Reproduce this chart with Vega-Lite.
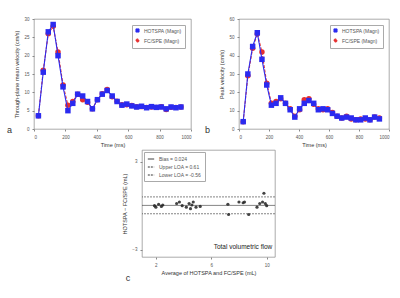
{
  "$schema": "https://vega.github.io/schema/vega-lite/v6.json",
  "padding": {"left": 6, "top": 15, "right": 2, "bottom": 4},
  "background": "white",
  "config": {
    "font": "Liberation Sans",
    "view": {"stroke": "#888888", "strokeWidth": 0.7},
    "axis": {"grid": false, "labelFontSize": 4.5, "titleFontSize": 5.5, "labelColor": "#555555", "titleColor": "#333333", "domain": false, "tickColor": "#888888", "tickSize": 2, "labelPadding": 3, "titleFontWeight": "normal", "labelOverlap": false, "format": "d"},
    "legend": {"labelFontSize": 5, "labelColor": "#555555", "symbolSize": 10, "rowPadding": 1, "padding": 3, "strokeColor": "#aaaaaa", "fillColor": "white", "symbolStrokeWidth": 1},
    "title": {"fontSize": 9, "fontWeight": "normal", "color": "#333333"}
  },
  "datasets": {
    "mean": [
      {"t": 28, "s": "HOTSPA (Magn)", "v": 3.6}, {"t": 59, "s": "HOTSPA (Magn)", "v": 15.5}, {"t": 91, "s": "HOTSPA (Magn)", "v": 26.5}, {"t": 122, "s": "HOTSPA (Magn)", "v": 28.5}, {"t": 153, "s": "HOTSPA (Magn)", "v": 20}, {"t": 185, "s": "HOTSPA (Magn)", "v": 11.5}, {"t": 216, "s": "HOTSPA (Magn)", "v": 5.0}, {"t": 247, "s": "HOTSPA (Magn)", "v": 7.0}, {"t": 278, "s": "HOTSPA (Magn)", "v": 9.5}, {"t": 310, "s": "HOTSPA (Magn)", "v": 9.0}, {"t": 341, "s": "HOTSPA (Magn)", "v": 7.5}, {"t": 372, "s": "HOTSPA (Magn)", "v": 5.5}, {"t": 404, "s": "HOTSPA (Magn)", "v": 8.0}, {"t": 435, "s": "HOTSPA (Magn)", "v": 9.5}, {"t": 466, "s": "HOTSPA (Magn)", "v": 10.5}, {"t": 498, "s": "HOTSPA (Magn)", "v": 9.0}, {"t": 529, "s": "HOTSPA (Magn)", "v": 7.5}, {"t": 560, "s": "HOTSPA (Magn)", "v": 6.5}, {"t": 591, "s": "HOTSPA (Magn)", "v": 6.8}, {"t": 623, "s": "HOTSPA (Magn)", "v": 6.3}, {"t": 654, "s": "HOTSPA (Magn)", "v": 6.0}, {"t": 685, "s": "HOTSPA (Magn)", "v": 6.2}, {"t": 717, "s": "HOTSPA (Magn)", "v": 5.8}, {"t": 748, "s": "HOTSPA (Magn)", "v": 6.1}, {"t": 779, "s": "HOTSPA (Magn)", "v": 5.9}, {"t": 811, "s": "HOTSPA (Magn)", "v": 6.0}, {"t": 842, "s": "HOTSPA (Magn)", "v": 5.5}, {"t": 873, "s": "HOTSPA (Magn)", "v": 6.0}, {"t": 904, "s": "HOTSPA (Magn)", "v": 5.8}, {"t": 936, "s": "HOTSPA (Magn)", "v": 6.0},
      {"t": 28, "s": "FC/SPE (Magn)", "v": 3.6}, {"t": 59, "s": "FC/SPE (Magn)", "v": 16}, {"t": 91, "s": "FC/SPE (Magn)", "v": 26}, {"t": 122, "s": "FC/SPE (Magn)", "v": 28}, {"t": 153, "s": "FC/SPE (Magn)", "v": 21}, {"t": 185, "s": "FC/SPE (Magn)", "v": 12}, {"t": 216, "s": "FC/SPE (Magn)", "v": 6.5}, {"t": 247, "s": "FC/SPE (Magn)", "v": 7.5}, {"t": 278, "s": "FC/SPE (Magn)", "v": 9.5}, {"t": 310, "s": "FC/SPE (Magn)", "v": 8.0}, {"t": 341, "s": "FC/SPE (Magn)", "v": 7.3}, {"t": 372, "s": "FC/SPE (Magn)", "v": 5.5}, {"t": 404, "s": "FC/SPE (Magn)", "v": 8.0}, {"t": 435, "s": "FC/SPE (Magn)", "v": 9.6}, {"t": 466, "s": "FC/SPE (Magn)", "v": 10.8}, {"t": 498, "s": "FC/SPE (Magn)", "v": 8.8}, {"t": 529, "s": "FC/SPE (Magn)", "v": 7.6}, {"t": 560, "s": "FC/SPE (Magn)", "v": 6.6}, {"t": 591, "s": "FC/SPE (Magn)", "v": 6.6}, {"t": 623, "s": "FC/SPE (Magn)", "v": 6.4}, {"t": 654, "s": "FC/SPE (Magn)", "v": 6.1}, {"t": 685, "s": "FC/SPE (Magn)", "v": 6.1}, {"t": 717, "s": "FC/SPE (Magn)", "v": 5.9}, {"t": 748, "s": "FC/SPE (Magn)", "v": 6.0}, {"t": 779, "s": "FC/SPE (Magn)", "v": 5.9}, {"t": 811, "s": "FC/SPE (Magn)", "v": 6.1}, {"t": 842, "s": "FC/SPE (Magn)", "v": 5.3}, {"t": 873, "s": "FC/SPE (Magn)", "v": 5.9}, {"t": 904, "s": "FC/SPE (Magn)", "v": 5.9}, {"t": 936, "s": "FC/SPE (Magn)", "v": 6.0}
    ],
    "peak": [
      {"t": 28, "s": "HOTSPA (Magn)", "v": 4}, {"t": 59, "s": "HOTSPA (Magn)", "v": 30}, {"t": 91, "s": "HOTSPA (Magn)", "v": 45}, {"t": 122, "s": "HOTSPA (Magn)", "v": 52.5}, {"t": 153, "s": "HOTSPA (Magn)", "v": 38}, {"t": 185, "s": "HOTSPA (Magn)", "v": 24}, {"t": 216, "s": "HOTSPA (Magn)", "v": 13}, {"t": 247, "s": "HOTSPA (Magn)", "v": 14}, {"t": 278, "s": "HOTSPA (Magn)", "v": 17}, {"t": 310, "s": "HOTSPA (Magn)", "v": 14}, {"t": 341, "s": "HOTSPA (Magn)", "v": 10.5}, {"t": 372, "s": "HOTSPA (Magn)", "v": 6.5}, {"t": 404, "s": "HOTSPA (Magn)", "v": 11}, {"t": 435, "s": "HOTSPA (Magn)", "v": 14}, {"t": 466, "s": "HOTSPA (Magn)", "v": 15.5}, {"t": 498, "s": "HOTSPA (Magn)", "v": 14}, {"t": 529, "s": "HOTSPA (Magn)", "v": 10.5}, {"t": 560, "s": "HOTSPA (Magn)", "v": 11}, {"t": 591, "s": "HOTSPA (Magn)", "v": 10.5}, {"t": 623, "s": "HOTSPA (Magn)", "v": 8.5}, {"t": 654, "s": "HOTSPA (Magn)", "v": 7}, {"t": 685, "s": "HOTSPA (Magn)", "v": 6}, {"t": 717, "s": "HOTSPA (Magn)", "v": 6.5}, {"t": 748, "s": "HOTSPA (Magn)", "v": 6}, {"t": 779, "s": "HOTSPA (Magn)", "v": 5}, {"t": 811, "s": "HOTSPA (Magn)", "v": 5}, {"t": 842, "s": "HOTSPA (Magn)", "v": 6}, {"t": 873, "s": "HOTSPA (Magn)", "v": 5}, {"t": 904, "s": "HOTSPA (Magn)", "v": 6.5}, {"t": 936, "s": "HOTSPA (Magn)", "v": 5.5},
      {"t": 28, "s": "FC/SPE (Magn)", "v": 4}, {"t": 59, "s": "FC/SPE (Magn)", "v": 29}, {"t": 91, "s": "FC/SPE (Magn)", "v": 44}, {"t": 122, "s": "FC/SPE (Magn)", "v": 52}, {"t": 153, "s": "FC/SPE (Magn)", "v": 42}, {"t": 185, "s": "FC/SPE (Magn)", "v": 25}, {"t": 216, "s": "FC/SPE (Magn)", "v": 14}, {"t": 247, "s": "FC/SPE (Magn)", "v": 15}, {"t": 278, "s": "FC/SPE (Magn)", "v": 16.5}, {"t": 310, "s": "FC/SPE (Magn)", "v": 14}, {"t": 341, "s": "FC/SPE (Magn)", "v": 11}, {"t": 372, "s": "FC/SPE (Magn)", "v": 7}, {"t": 404, "s": "FC/SPE (Magn)", "v": 10.5}, {"t": 435, "s": "FC/SPE (Magn)", "v": 16}, {"t": 466, "s": "FC/SPE (Magn)", "v": 16.5}, {"t": 498, "s": "FC/SPE (Magn)", "v": 13.5}, {"t": 529, "s": "FC/SPE (Magn)", "v": 11}, {"t": 560, "s": "FC/SPE (Magn)", "v": 10.5}, {"t": 591, "s": "FC/SPE (Magn)", "v": 11}, {"t": 623, "s": "FC/SPE (Magn)", "v": 9}, {"t": 654, "s": "FC/SPE (Magn)", "v": 7}, {"t": 685, "s": "FC/SPE (Magn)", "v": 6}, {"t": 717, "s": "FC/SPE (Magn)", "v": 7}, {"t": 748, "s": "FC/SPE (Magn)", "v": 5.5}, {"t": 779, "s": "FC/SPE (Magn)", "v": 5}, {"t": 811, "s": "FC/SPE (Magn)", "v": 5.5}, {"t": 842, "s": "FC/SPE (Magn)", "v": 5.5}, {"t": 873, "s": "FC/SPE (Magn)", "v": 5}, {"t": 904, "s": "FC/SPE (Magn)", "v": 6.5}, {"t": 936, "s": "FC/SPE (Magn)", "v": 6}
    ],
    "ba": [
      {"m": 1.9, "d": 0.0}, {"m": 2.0, "d": -0.1}, {"m": 2.2, "d": 0.1}, {"m": 2.4, "d": -0.05}, {"m": 2.5, "d": 0.05},
      {"m": 3.5, "d": 0.15}, {"m": 3.7, "d": 0.25}, {"m": 3.9, "d": 0.0}, {"m": 4.2, "d": -0.1}, {"m": 4.4, "d": 0.15}, {"m": 4.5, "d": -0.2}, {"m": 4.6, "d": 0.05}, {"m": 4.7, "d": 0.25}, {"m": 4.9, "d": -0.1}, {"m": 5.2, "d": -0.05},
      {"m": 7.2, "d": 0.1}, {"m": 7.25, "d": -0.6},
      {"m": 8.0, "d": 0.25}, {"m": 8.3, "d": 0.2}, {"m": 8.4, "d": 0.25},
      {"m": 8.7, "d": -0.6},
      {"m": 9.3, "d": -0.1}, {"m": 9.5, "d": 0.15}, {"m": 9.7, "d": 0.25}, {"m": 9.8, "d": 0.85}, {"m": 9.9, "d": 0.15}, {"m": 10.0, "d": 0.0}
    ],
    "loa": [
      {"lab": "Bias = 0.024", "y": 0.02},
      {"lab": "Upper LOA = 0.61", "y": 0.6},
      {"lab": "Lower LOA = -0.56", "y": -0.55}
    ]
  },
  "vconcat": [
    {
      "hconcat": [
        {
          "width": 157, "height": 110,
          "title": {"text": "a", "orient": "bottom", "anchor": "start", "dx": -8, "dy": -26},
          "data": {"name": "mean"},
          "encoding": {
            "x": {"field": "t", "type": "quantitative", "scale": {"domain": [0, 1000]}, "axis": {"values": [0, 200, 400, 600, 800, 1000], "title": "Time (ms)"}},
            "y": {"field": "v", "type": "quantitative", "scale": {"domain": [0, 30]}, "axis": {"values": [0, 5, 10, 15, 20, 25, 30], "title": "Through-plane mean velocity (cm/s)"}},
            "color": {"field": "s", "type": "nominal", "scale": {"domain": ["HOTSPA (Magn)", "FC/SPE (Magn)"], "range": ["#2b2bf0", "#e63030"]}, "legend": {"orient": "top-right", "title": null, "offset": 6}},
            "shape": {"field": "s", "type": "nominal", "scale": {"domain": ["HOTSPA (Magn)", "FC/SPE (Magn)"], "range": ["square", "circle"]}, "legend": null},
            "strokeDash": {"field": "s", "type": "nominal", "scale": {"domain": ["HOTSPA (Magn)", "FC/SPE (Magn)"], "range": [[1, 0], [3, 1.5]]}, "legend": null}
          },
          "layer": [
            {"transform": [{"filter": "datum.s === 'FC/SPE (Magn)'"}], "mark": {"type": "line", "strokeWidth": 1.1}},
            {"transform": [{"filter": "datum.s === 'FC/SPE (Magn)'"}], "mark": {"type": "point", "filled": true, "size": 7}},
            {"transform": [{"filter": "datum.s === 'HOTSPA (Magn)'"}], "mark": {"type": "line", "strokeWidth": 1.1}},
            {"transform": [{"filter": "datum.s === 'HOTSPA (Magn)'"}], "mark": {"type": "point", "filled": true, "size": 6}}
          ]
        },
        {
          "width": 150, "height": 110,
          "title": {"text": "b", "orient": "bottom", "anchor": "start", "dx": -15, "dy": -26},
          "data": {"name": "peak"},
          "encoding": {
            "x": {"field": "t", "type": "quantitative", "scale": {"domain": [0, 1000]}, "axis": {"values": [0, 200, 400, 600, 800, 1000], "title": "Time (ms)"}},
            "y": {"field": "v", "type": "quantitative", "scale": {"domain": [0, 60]}, "axis": {"values": [0, 10, 20, 30, 40, 50, 60], "title": "Peak velocity (cm/s)"}},
            "color": {"field": "s", "type": "nominal", "scale": {"domain": ["HOTSPA (Magn)", "FC/SPE (Magn)"], "range": ["#2b2bf0", "#e63030"]}, "legend": {"orient": "top-right", "title": null, "offset": 6}},
            "shape": {"field": "s", "type": "nominal", "scale": {"domain": ["HOTSPA (Magn)", "FC/SPE (Magn)"], "range": ["square", "circle"]}, "legend": null},
            "strokeDash": {"field": "s", "type": "nominal", "scale": {"domain": ["HOTSPA (Magn)", "FC/SPE (Magn)"], "range": [[1, 0], [3, 1.5]]}, "legend": null}
          },
          "layer": [
            {"transform": [{"filter": "datum.s === 'FC/SPE (Magn)'"}], "mark": {"type": "line", "strokeWidth": 1.1}},
            {"transform": [{"filter": "datum.s === 'FC/SPE (Magn)'"}], "mark": {"type": "point", "filled": true, "size": 7}},
            {"transform": [{"filter": "datum.s === 'HOTSPA (Magn)'"}], "mark": {"type": "line", "strokeWidth": 1.1}},
            {"transform": [{"filter": "datum.s === 'HOTSPA (Magn)'"}], "mark": {"type": "point", "filled": true, "size": 6}}
          ]
        }
      ],
      "spacing": 12,
      "resolve": {"scale": {"color": "independent", "shape": "independent", "strokeDash": "independent"}, "legend": {"color": "independent", "shape": "independent", "strokeDash": "independent"}}
    },
    {
      "hconcat": [
        {
          "width": 78, "height": 107,
          "view": {"stroke": null},
          "data": {"values": [{}]},
          "mark": {"type": "text"},
          "encoding": {"text": {"value": ""}}
        },
        {
          "width": 133, "height": 107,
          "title": {"text": "c", "orient": "bottom", "anchor": "start", "dx": 3, "dy": -6},
          "layer": [
            {
              "data": {"name": "loa"},
              "mark": {"type": "rule", "strokeWidth": 0.6, "color": "#333333"},
              "encoding": {
                "y": {"field": "y", "type": "quantitative"},
                "strokeDash": {"field": "lab", "type": "nominal", "scale": {"domain": ["Bias = 0.024", "Upper LOA = 0.61", "Lower LOA = -0.56"], "range": [[1, 0], [2, 1], [2, 1]]}, "legend": {"orient": "top-left", "title": null, "offset": 2, "symbolStrokeColor": "#333333", "symbolSize": 40}}
              }
            },
            {
              "data": {"name": "ba"},
              "mark": {"type": "point", "filled": true, "size": 10, "color": "#222222", "opacity": 0.85},
              "encoding": {
                "x": {"field": "m", "type": "quantitative", "scale": {"domain": [1, 10.6], "nice": false}, "axis": {"values": [2, 4, 6, 8, 10], "title": "Average of HOTSPA and FC/SPE (mL)"}},
                "y": {"field": "d", "type": "quantitative", "scale": {"domain": [-3.5, 3.8], "nice": false}, "axis": {"values": [-3, -2, -1, 0, 1, 2, 3], "title": "HOTSPA − FC/SPE (mL)"}}
              }
            },
            {
              "data": {"values": [{}]},
              "mark": {"type": "text", "fontSize": 6.5, "align": "right", "baseline": "middle", "color": "#222222"},
              "encoding": {"x": {"datum": 10.4}, "y": {"datum": -2.85}, "text": {"value": "Total volumetric flow"}}
            }
          ]
        }
      ],
      "spacing": 10,
      "resolve": {"legend": {"strokeDash": "independent"}, "scale": {"strokeDash": "independent"}}
    }
  ],
  "spacing": 0,
  "resolve": {"legend": {"strokeDash": "independent", "color": "independent"}, "scale": {"strokeDash": "independent", "color": "independent"}}
}
